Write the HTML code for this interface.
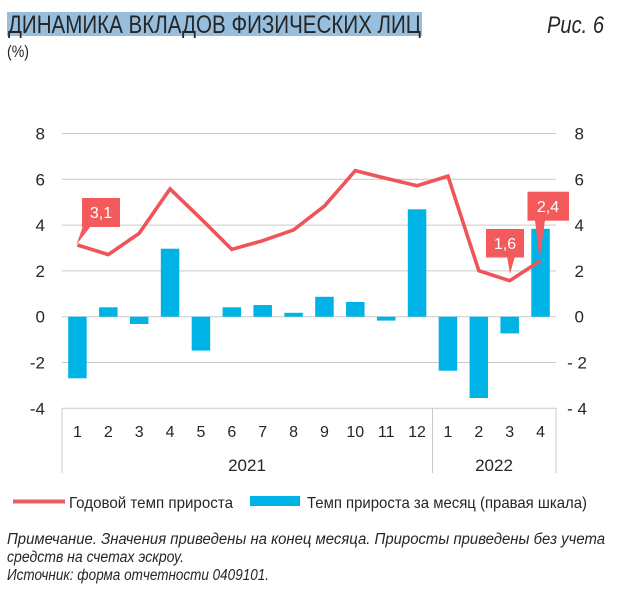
<!DOCTYPE html>
<html>
<head>
<meta charset="utf-8">
<style>
  html,body{margin:0;padding:0;background:#fff;}
  svg{display:block;}
  text{font-family:"Liberation Sans","DejaVu Sans",sans-serif;fill:#262626;}
</style>
</head>
<body>
<svg width="628" height="598" viewBox="0 0 628 598" xmlns="http://www.w3.org/2000/svg">
  <!-- Title -->
  <rect x="7" y="12" width="415" height="24" fill="#97bfdd"/>
  <text x="8" y="33" font-size="25" textLength="413" lengthAdjust="spacingAndGlyphs" fill="#1a1a1a">ДИНАМИКА ВКЛАДОВ ФИЗИЧЕСКИХ ЛИЦ</text>
  <text x="547" y="33" font-size="24" font-style="italic" textLength="57" lengthAdjust="spacingAndGlyphs" fill="#1a1a1a">Рис. 6</text>
  <text x="7" y="57" font-size="17" textLength="22" lengthAdjust="spacingAndGlyphs">(%)</text>

  <!-- Gridlines -->
  <g stroke="#c9c9c9" stroke-width="1">
    <line x1="62" y1="133.5" x2="556" y2="133.5"/>
    <line x1="62" y1="179.3" x2="556" y2="179.3"/>
    <line x1="62" y1="225.1" x2="556" y2="225.1"/>
    <line x1="62" y1="270.9" x2="556" y2="270.9"/>
    <line x1="62" y1="316.7" x2="556" y2="316.7"/>
    <line x1="62" y1="362.5" x2="556" y2="362.5"/>
    <line x1="62" y1="408.3" x2="556" y2="408.3"/>
    <line x1="62" y1="408.3" x2="62" y2="473"/>
    <line x1="432.5" y1="408.3" x2="432.5" y2="473"/>
    <line x1="556" y1="408.3" x2="556" y2="473"/>
  </g>

  <!-- Left axis labels -->
  <g font-size="17" text-anchor="end">
    <text x="45" y="139.5">8</text>
    <text x="45" y="185.3">6</text>
    <text x="45" y="231.1">4</text>
    <text x="45" y="276.9">2</text>
    <text x="45" y="322.7">0</text>
    <text x="45" y="368.5">-2</text>
    <text x="45" y="414.3">-4</text>
  </g>
  <!-- Right axis labels -->
  <g font-size="17" text-anchor="end">
    <text x="584" y="139.5">8</text>
    <text x="584" y="185.3">6</text>
    <text x="584" y="231.1">4</text>
    <text x="584" y="276.9">2</text>
    <text x="584" y="322.7">0</text>
    <text x="587" y="368.5">- 2</text>
    <text x="587" y="414.3">- 4</text>
  </g>

  <!-- Bars -->
  <g fill="#00b3e6">
    <rect x="68.19" y="316.7" width="18.5" height="61.6"/>
    <rect x="99.06" y="307.3" width="18.5" height="9.4"/>
    <rect x="129.94" y="316.7" width="18.5" height="7.3"/>
    <rect x="160.81" y="248.7" width="18.5" height="68.0"/>
    <rect x="191.69" y="316.7" width="18.5" height="33.9"/>
    <rect x="222.56" y="307.3" width="18.5" height="9.4"/>
    <rect x="253.44" y="305.0" width="18.5" height="11.7"/>
    <rect x="284.31" y="312.8" width="18.5" height="3.9"/>
    <rect x="315.19" y="296.8" width="18.5" height="19.9"/>
    <rect x="346.06" y="302.0" width="18.5" height="14.7"/>
    <rect x="376.94" y="316.7" width="18.5" height="3.9"/>
    <rect x="407.81" y="209.3" width="18.5" height="107.4"/>
    <rect x="438.69" y="316.7" width="18.5" height="54.0"/>
    <rect x="469.56" y="316.7" width="18.5" height="81.3"/>
    <rect x="500.44" y="316.7" width="18.5" height="16.7"/>
    <rect x="531.31" y="228.8" width="18.5" height="87.9"/>
  </g>

  <!-- Line -->
  <polyline fill="none" stroke="#ee5558" stroke-width="3.6" stroke-linejoin="miter" stroke-linecap="butt"
    points="77.44,245.0 108.31,254.6 139.19,233.3 170.06,188.9 200.94,218.7 231.81,249.4 262.69,240.7 293.56,229.9 324.44,206.1 355.31,170.6 386.19,178.4 417.06,185.7 447.94,176.1 478.81,270.7 509.69,280.7 540.56,260.6"/>

  <!-- Callouts -->
  <g fill="#f25a5c">
    <rect x="82" y="198" width="38" height="29"/>
    <polygon points="83,226 91,226 76.5,244.5"/>
    <rect x="486" y="229" width="38" height="28.5"/>
    <polygon points="507,256 515,256 510,274"/>
    <rect x="527.5" y="191.7" width="41.5" height="29"/>
    <polygon points="535,220 545,220 539.5,260"/>
  </g>
  <g font-size="16" text-anchor="middle">
    <text x="101" y="218" fill="#ffffff" style="fill:#fff">3,1</text>
    <text x="505" y="249" fill="#ffffff" style="fill:#fff">1,6</text>
    <text x="548" y="212" fill="#ffffff" style="fill:#fff">2,4</text>
  </g>

  <!-- Category labels -->
  <g font-size="16" text-anchor="middle">
    <text x="77.44" y="437">1</text>
    <text x="108.31" y="437">2</text>
    <text x="139.19" y="437">3</text>
    <text x="170.06" y="437">4</text>
    <text x="200.94" y="437">5</text>
    <text x="231.81" y="437">6</text>
    <text x="262.69" y="437">7</text>
    <text x="293.56" y="437">8</text>
    <text x="324.44" y="437">9</text>
    <text x="355.31" y="437">10</text>
    <text x="386.19" y="437">11</text>
    <text x="417.06" y="437">12</text>
    <text x="447.94" y="437">1</text>
    <text x="478.81" y="437">2</text>
    <text x="509.69" y="437">3</text>
    <text x="540.56" y="437">4</text>
  </g>
  <g font-size="17" text-anchor="middle">
    <text x="247" y="471">2021</text>
    <text x="494" y="471">2022</text>
  </g>

  <!-- Legend -->
  <line x1="13" y1="501.5" x2="65" y2="501.5" stroke="#e85d60" stroke-width="4"/>
  <text x="69" y="508" font-size="16" textLength="164" lengthAdjust="spacingAndGlyphs">Годовой темп прироста</text>
  <rect x="250" y="496" width="50" height="10" fill="#00b3e6"/>
  <text x="307" y="508" font-size="16" textLength="280" lengthAdjust="spacingAndGlyphs">Темп прироста за месяц (правая шкала)</text>

  <!-- Notes -->
  <g font-size="15.5" font-style="italic">
    <text x="7" y="544" textLength="598" lengthAdjust="spacingAndGlyphs">Примечание. Значения приведены на конец месяца. Приросты приведены без учета</text>
    <text x="7" y="562" textLength="177" lengthAdjust="spacingAndGlyphs">средств на счетах эскроу.</text>
    <text x="7" y="580" textLength="262" lengthAdjust="spacingAndGlyphs">Источник: форма отчетности 0409101.</text>
  </g>
</svg>
</body>
</html>
